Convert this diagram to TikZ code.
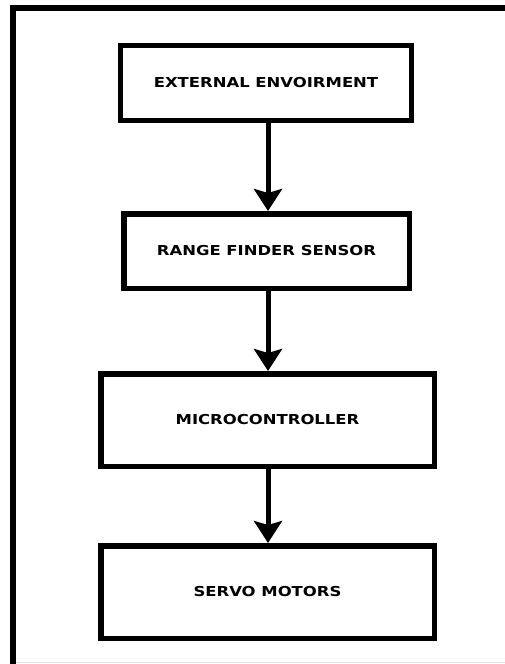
\documentclass[tikz,border=0pt]{standalone}
\usepackage{fontspec}
\setmainfont{DejaVu Sans}
\usetikzlibrary{arrows.meta}
\tikzset{
  blk/.style={draw=black, line width=5.5pt, rectangle, inner sep=0pt,
    font=\bfseries\fontsize{13.7}{16}\selectfont},
  flow/.style={line width=5pt, -{Stealth[length=22pt,width=28pt,inset=4pt]}},
}
\newcommand{\wide}[1]{\scalebox{1.2}[1]{#1}}
\begin{document}
\begin{tikzpicture}[x=1pt,y=-1pt]
\useasboundingbox (0,0) rectangle (505,664);
\fill[white] (0,0) rectangle (505,664);
% outer frame lines
\coordinate (ftl) at (13,8);
\coordinate (ftr) at (505,8);
\coordinate (fbl) at (13,664);
\draw[line width=6pt] (ftr) -- (ftl) -- (fbl);
\coordinate (gl) at (16,662.5);
\coordinate (gr) at (505,662.5);
\draw[line width=1.2pt, color=black!9] (gl) -- (gr);
% boxes
\node[blk, minimum width=291pt, minimum height=75pt] (b1) at (266,83) {\wide{EXTERNAL ENVOIRMENT}};
\node[blk, minimum width=285.5pt, minimum height=74.5pt] (b2) at (266.5,251) {\wide{RANGE FINDER SENSOR}};
\node[blk, minimum width=333.5pt, minimum height=92.5pt] (b3) at (267.5,420) {\wide{MICROCONTROLLER}};
\node[blk, minimum width=333.5pt, minimum height=92.5pt] (b4) at (267.5,592) {\wide{SERVO MOTORS}};
% arrows
\coordinate (ax) at (268,0);
\draw[flow] (b1.south -| ax) -- (b2.north -| ax);
\draw[flow] (b2.south -| ax) -- (b3.north -| ax);
\draw[flow] (b3.south -| ax) -- (b4.north -| ax);
\end{tikzpicture}
\end{document}
